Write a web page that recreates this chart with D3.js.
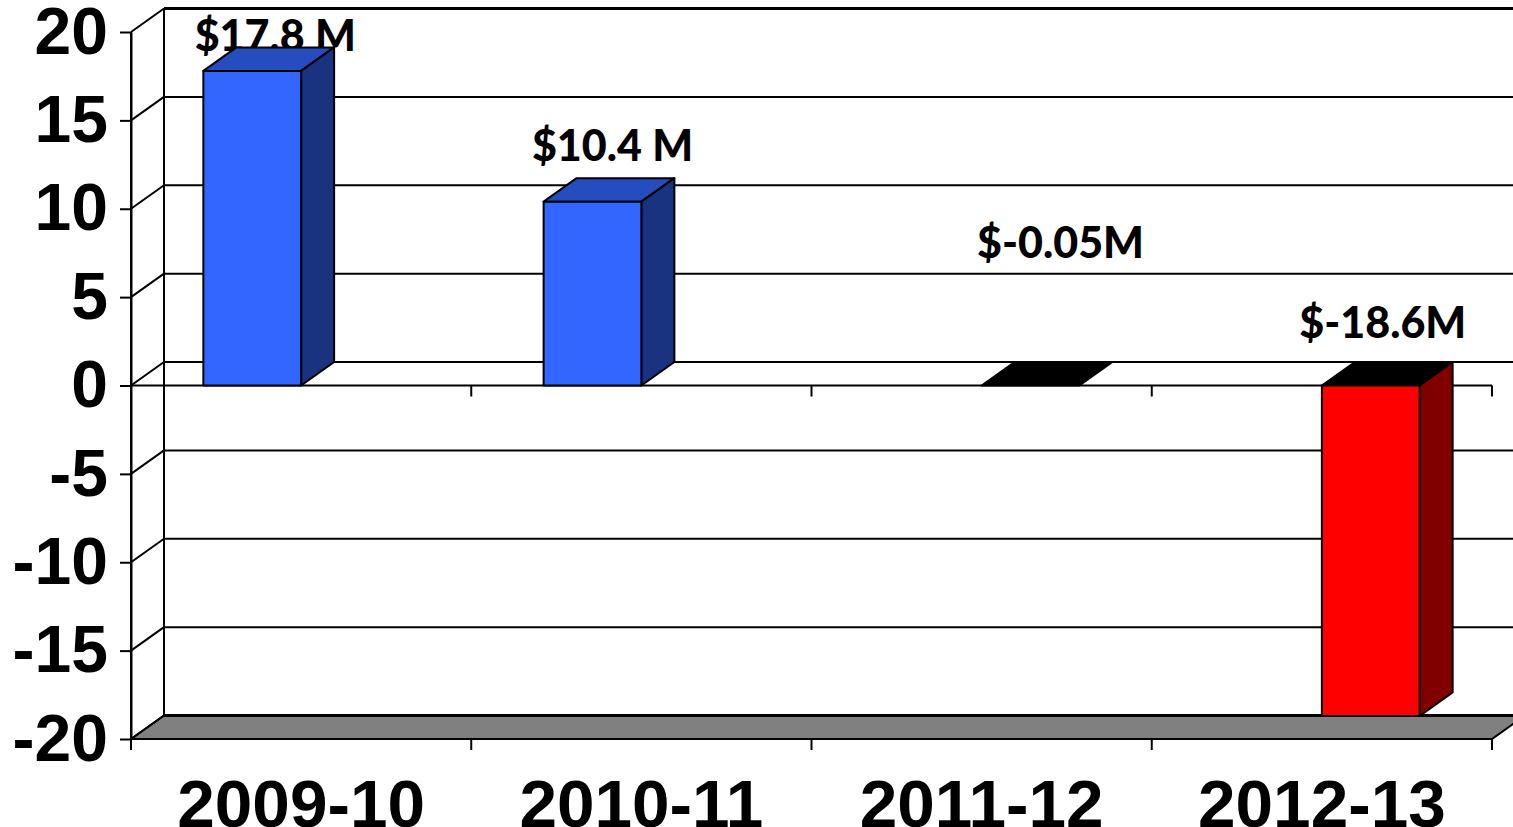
<!DOCTYPE html>
<html>
<head>
<meta charset="utf-8">
<script src="https://cdn.jsdelivr.net/npm/d3@7"></script>
<style>
  html, body { margin: 0; padding: 0; background: #fff; overflow: hidden; }
  svg { display: block; }
  .tick-label { font-family: "Liberation Sans", Arial, sans-serif; font-weight: bold; fill: #000; }
  .value-label { font-family: Lato, "Noto Sans", sans-serif; font-weight: 900; font-size: 43px; fill: #000; }
</style>
</head>
<body>
<div id="chart"></div>
<script>
// Chart data
const categories = ["2009-10", "2010-11", "2011-12", "2012-13"];
const seriesNames = ["gain", "loss"];
const gainValues = [17.8, 10.4, null, null];
const lossValues = [null, null, -0.05, -18.7];
const valueLabels = ["$17.8 M", "$10.4 M", "$-0.05M", "$-18.6M"];
const yTicks = [20, 15, 10, 5, 0, -5, -10, -15, -20];

// Layout
const width = 1513, height = 827;
const left = 131, right = 1492, top_ = 32, bottom = 739;
const depthX = 33, depthY = -23.5; // offset of the back wall
const labelNudge = [[23, -20], [20, -41], [30, -128], [12, -48]];

const svg = d3.select("#chart").append("svg")
  .attr("width", width)
  .attr("height", height);

const y = d3.scaleLinear().domain([-20, 20]).range([bottom, top_]);
const x0 = d3.scaleBand().domain(categories).range([left, right]);
const x1 = d3.scaleBand().domain(seriesNames).range([0, x0.bandwidth()]).paddingOuter(0.74).paddingInner(0);

const poly = pts => pts.map(p => p.join(",")).join(" ");

// Floor
svg.append("polygon")
  .attr("points", poly([[left, y(-20)], [left + depthX, y(-20) + depthY], [right + depthX, y(-20) + depthY], [right, y(-20)]]))
  .attr("fill", "#808080")
  .attr("stroke", "#000")
  .attr("stroke-width", 2);

// Back wall gridlines and the diagonals on the side wall
yTicks.forEach(t => {
  const py = y(t);
  const heavy = t === 20 || t === -20;
  svg.append("line")
    .attr("x1", left + depthX).attr("x2", right + depthX)
    .attr("y1", py + depthY).attr("y2", py + depthY)
    .attr("stroke", "#000")
    .attr("stroke-width", heavy ? 3 : 2);
  svg.append("line")
    .attr("x1", left).attr("x2", left + depthX)
    .attr("y1", py).attr("y2", py + depthY)
    .attr("stroke", "#000")
    .attr("stroke-width", 2);
});

// Back wall left edge
svg.append("line")
  .attr("x1", left + depthX).attr("x2", left + depthX)
  .attr("y1", y(20) + depthY).attr("y2", y(-20) + depthY)
  .attr("stroke", "#000")
  .attr("stroke-width", 2);

// Value labels go under the bars
svg.selectAll(".value-label")
  .data(categories)
  .enter()
  .append("text")
    .attr("class", "value-label")
    .attr("text-anchor", "middle")
    .attr("x", (d, i) => x0(d) + x1(i < 2 ? "gain" : "loss") + x1.bandwidth() / 2 + labelNudge[i][0])
    .attr("y", (d, i) => y(gainValues[i] !== null ? gainValues[i] : 0) + labelNudge[i][1])
    .text((d, i) => valueLabels[i]);

// One 3D bar: top face, side face, front face
function drawBar(cat, value, name, colors) {
  if (value === null) return;
  const xa = x0(cat) + x1(name), xb = xa + x1.bandwidth();
  const ya = y(Math.max(value, 0)), yb = y(Math.min(value, 0));
  const g = svg.append("g").attr("stroke", "#000").attr("stroke-width", 2).attr("stroke-linejoin", "round");
  g.append("polygon")
    .attr("points", poly([[xa, ya], [xa + depthX, ya + depthY], [xb + depthX, ya + depthY], [xb, ya]]))
    .attr("fill", colors.top);
  if (yb - ya > 2) {
    g.append("polygon")
      .attr("points", poly([[xb, ya], [xb + depthX, ya + depthY], [xb + depthX, yb + depthY], [xb, yb]]))
      .attr("fill", colors.side);
    g.append("rect")
      .attr("x", xa).attr("y", ya)
      .attr("width", xb - xa).attr("height", yb - ya)
      .attr("fill", colors.front);
  }
}

const blue = {front: "#3366ff", top: "#264dbf", side: "#1a3380"};
const red = {front: "#ff0000", top: "#000000", side: "#800000"};

// Zero line sits behind the bars
svg.append("line")
  .attr("x1", left).attr("x2", right)
  .attr("y1", y(0)).attr("y2", y(0))
  .attr("stroke", "#000")
  .attr("stroke-width", 2);

categories.forEach((c, i) => {
  drawBar(c, gainValues[i], "gain", blue);
  drawBar(c, lossValues[i], "loss", red);
});

// Y axis
const yAxis = svg.append("g")
  .attr("transform", `translate(${left},0)`)
  .call(d3.axisLeft(y).tickValues(yTicks).tickSize(11).tickSizeOuter(0).tickFormat(d3.format("d")));
yAxis.select(".domain").attr("stroke-width", 2);
yAxis.selectAll(".tick line").attr("stroke-width", 2);
yAxis.selectAll("text")
  .attr("class", "tick-label")
  .attr("x", -23)
  .style("font-size", "66px")
  .text(d => String(d));

// Category labels at the band centres
const xAxis = svg.append("g")
  .attr("transform", `translate(0,${bottom})`)
  .call(d3.axisBottom(x0).tickSize(0));
xAxis.select(".domain").remove();
xAxis.selectAll("text")
  .attr("class", "tick-label")
  .attr("y", 40)
  .style("font-size", "67.5px");

// Tick marks on band edges, on the zero line and on the bottom edge
const edges = categories.map(c => x0(c)).concat([right]);
[y(0), y(-20)].forEach(py => {
  svg.selectAll(null)
    .data(edges)
    .enter()
    .append("line")
      .attr("x1", d => d).attr("x2", d => d)
      .attr("y1", py).attr("y2", py + 11)
      .attr("stroke", "#000")
      .attr("stroke-width", 2);
});
// Vertical rule down to the lowest tick
svg.append("line")
  .attr("x1", left).attr("x2", left)
  .attr("y1", y(20)).attr("y2", y(-20) + 11)
  .attr("stroke", "#000")
  .attr("stroke-width", 2);
</script>
</body>
</html>
